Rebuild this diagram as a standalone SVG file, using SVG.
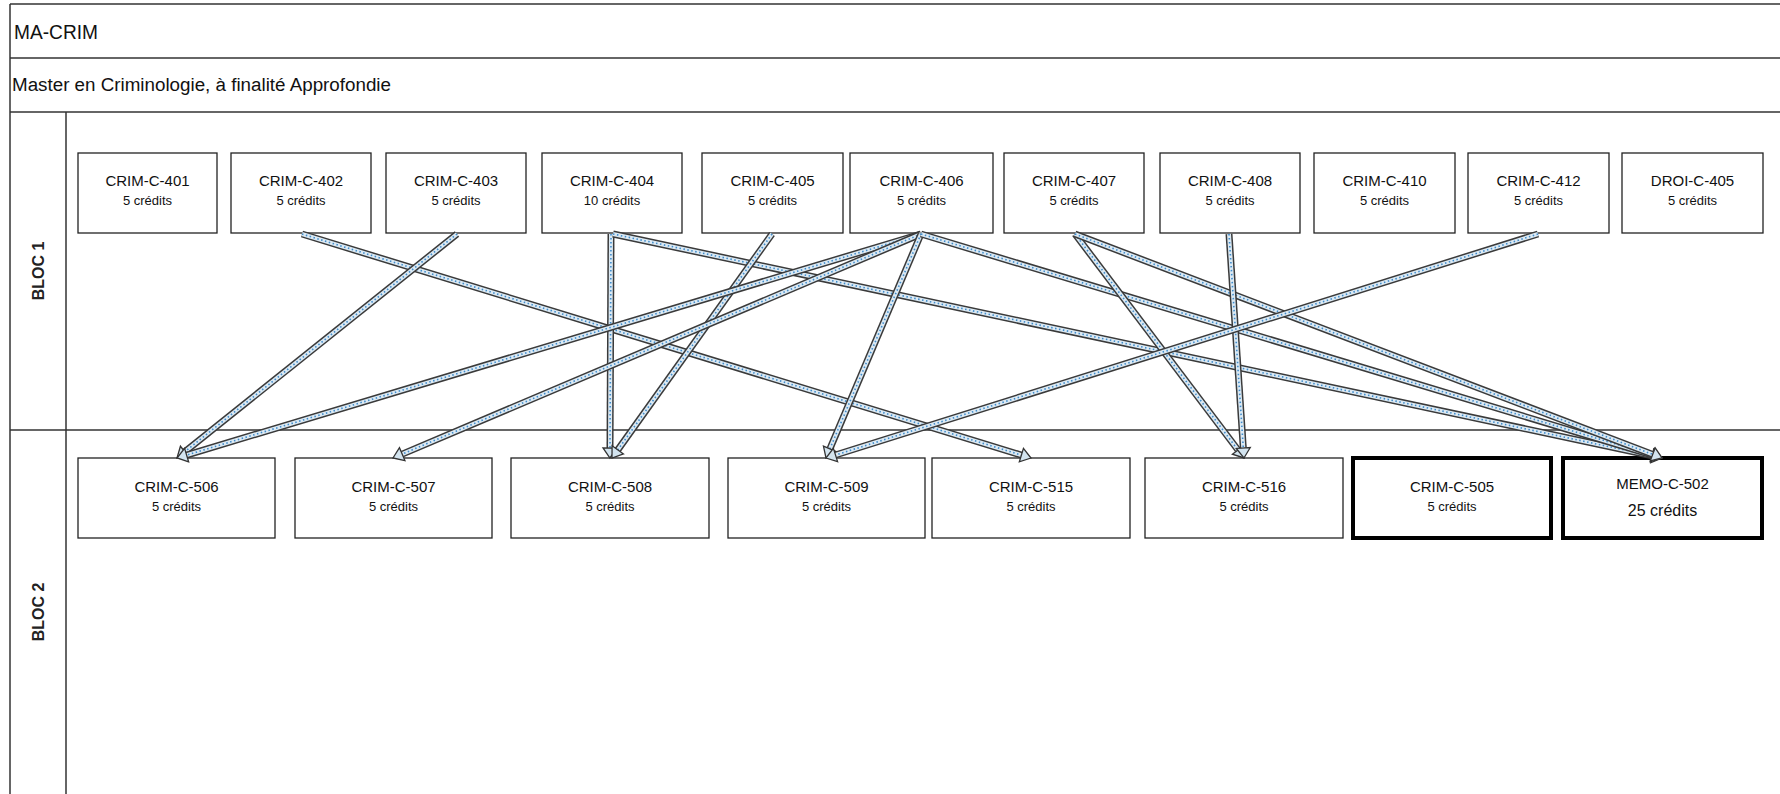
<svg xmlns="http://www.w3.org/2000/svg" width="1780" height="794" viewBox="0 0 1780 794">
<style>
.frame{stroke:#333;stroke-width:1.5;fill:none}
.box{fill:#fff;stroke:#222;stroke-width:1.3}
.bold{fill:#fff;stroke:#000;stroke-width:4}
.t{font-family:"Liberation Sans",Arial,sans-serif;font-size:15px;fill:#111;text-anchor:middle}
.c{font-family:"Liberation Sans",Arial,sans-serif;font-size:13px;fill:#111;text-anchor:middle}
.c2{font-family:"Liberation Sans",Arial,sans-serif;font-size:16px;fill:#111;text-anchor:middle}
.hdr{font-family:"Liberation Sans",Arial,sans-serif;fill:#111}
.lane{font-family:"Liberation Sans",Arial,sans-serif;font-size:16px;font-weight:bold;fill:#222;text-anchor:middle}
.o{stroke:#3a3a3a;stroke-width:7;fill:none}
.i{stroke:#dbe9f3;stroke-width:4;fill:none}
.d{stroke:#3f8ccc;stroke-width:1.6;stroke-dasharray:1.5 2.5;fill:none;marker-end:url(#head)}
</style>
<defs>
<marker id="head" markerUnits="userSpaceOnUse" markerWidth="14" markerHeight="18" viewBox="-1 -9 14 18" refX="0" refY="0" orient="auto" overflow="visible">
<path d="M0,-7 L10,0 L0,7 Z" fill="#d3e4ef" stroke="#333" stroke-width="1.3" stroke-linejoin="miter"/>
</marker>
</defs>
<rect x="0" y="0" width="1780" height="794" fill="#fff"/>
<g id="frame">
<line class="frame" x1="10" y1="4" x2="1780" y2="4"/>
<line class="frame" x1="10" y1="4" x2="10" y2="794"/>
<line class="frame" x1="10" y1="58" x2="1780" y2="58"/>
<line class="frame" x1="10" y1="112" x2="1780" y2="112"/>
<line class="frame" x1="66" y1="112" x2="66" y2="794"/>
<line class="frame" x1="10" y1="430" x2="1780" y2="430"/>
<text class="hdr" x="14" y="39" font-size="21" textLength="84" lengthAdjust="spacingAndGlyphs">MA-CRIM</text>
<text class="hdr" x="12" y="91" font-size="18.8">Master en Criminologie, à finalité Approfondie</text>
<text class="lane" transform="translate(43.5,271) rotate(-90)">BLOC 1</text>
<text class="lane" transform="translate(43.5,612) rotate(-90)">BLOC 2</text>
</g>
<g id="CRIM-C-401"><rect class="box" x="78" y="153" width="139" height="80"/><text class="t" x="147.5" y="186">CRIM-C-401</text><text class="c" x="147.5" y="205">5 crédits</text></g>
<g id="CRIM-C-402"><rect class="box" x="231" y="153" width="140" height="80"/><text class="t" x="301" y="186">CRIM-C-402</text><text class="c" x="301" y="205">5 crédits</text></g>
<g id="CRIM-C-403"><rect class="box" x="386" y="153" width="140" height="80"/><text class="t" x="456" y="186">CRIM-C-403</text><text class="c" x="456" y="205">5 crédits</text></g>
<g id="CRIM-C-404"><rect class="box" x="542" y="153" width="140" height="80"/><text class="t" x="612" y="186">CRIM-C-404</text><text class="c" x="612" y="205">10 crédits</text></g>
<g id="CRIM-C-405"><rect class="box" x="702" y="153" width="141" height="80"/><text class="t" x="772.5" y="186">CRIM-C-405</text><text class="c" x="772.5" y="205">5 crédits</text></g>
<g id="CRIM-C-406"><rect class="box" x="850" y="153" width="143" height="80"/><text class="t" x="921.5" y="186">CRIM-C-406</text><text class="c" x="921.5" y="205">5 crédits</text></g>
<g id="CRIM-C-407"><rect class="box" x="1004" y="153" width="140" height="80"/><text class="t" x="1074" y="186">CRIM-C-407</text><text class="c" x="1074" y="205">5 crédits</text></g>
<g id="CRIM-C-408"><rect class="box" x="1160" y="153" width="140" height="80"/><text class="t" x="1230" y="186">CRIM-C-408</text><text class="c" x="1230" y="205">5 crédits</text></g>
<g id="CRIM-C-410"><rect class="box" x="1314" y="153" width="141" height="80"/><text class="t" x="1384.5" y="186">CRIM-C-410</text><text class="c" x="1384.5" y="205">5 crédits</text></g>
<g id="CRIM-C-412"><rect class="box" x="1468" y="153" width="141" height="80"/><text class="t" x="1538.5" y="186">CRIM-C-412</text><text class="c" x="1538.5" y="205">5 crédits</text></g>
<g id="DROI-C-405"><rect class="box" x="1622" y="153" width="141" height="80"/><text class="t" x="1692.5" y="186">DROI-C-405</text><text class="c" x="1692.5" y="205">5 crédits</text></g>
<g id="CRIM-C-506"><rect class="box" x="78" y="458" width="197" height="80"/><text class="t" x="176.5" y="492">CRIM-C-506</text><text class="c" x="176.5" y="511">5 crédits</text></g>
<g id="CRIM-C-507"><rect class="box" x="295" y="458" width="197" height="80"/><text class="t" x="393.5" y="492">CRIM-C-507</text><text class="c" x="393.5" y="511">5 crédits</text></g>
<g id="CRIM-C-508"><rect class="box" x="511" y="458" width="198" height="80"/><text class="t" x="610" y="492">CRIM-C-508</text><text class="c" x="610" y="511">5 crédits</text></g>
<g id="CRIM-C-509"><rect class="box" x="728" y="458" width="197" height="80"/><text class="t" x="826.5" y="492">CRIM-C-509</text><text class="c" x="826.5" y="511">5 crédits</text></g>
<g id="CRIM-C-515"><rect class="box" x="932" y="458" width="198" height="80"/><text class="t" x="1031" y="492">CRIM-C-515</text><text class="c" x="1031" y="511">5 crédits</text></g>
<g id="CRIM-C-516"><rect class="box" x="1145" y="458" width="198" height="80"/><text class="t" x="1244" y="492">CRIM-C-516</text><text class="c" x="1244" y="511">5 crédits</text></g>
<g id="CRIM-C-505"><rect class="bold" x="1353" y="458" width="198" height="80"/><text class="t" x="1452" y="492">CRIM-C-505</text><text class="c" x="1452" y="511">5 crédits</text></g>
<g id="MEMO-C-502"><rect class="bold" x="1563" y="458" width="199" height="80"/><text class="t" x="1662.5" y="489">MEMO-C-502</text><text class="c2" x="1662.5" y="516">25 crédits</text></g>
<g id="connectors">
<path class="o" d="M302,234 L1021.4,455.1"/><path class="i" d="M302,234 L1021.4,455.1"/><path class="d" d="M302,234 L1021.4,455.1"/>
<path class="o" d="M457,234 L184.8,451.7"/><path class="i" d="M457,234 L184.8,451.7"/><path class="d" d="M457,234 L184.8,451.7"/>
<path class="o" d="M611,234 L610,448"/><path class="i" d="M611,234 L610,448"/><path class="d" d="M611,234 L610,448"/>
<path class="o" d="M613,234 L1652.2,455.9"/><path class="i" d="M613,234 L1652.2,455.9"/><path class="d" d="M613,234 L1652.2,455.9"/>
<path class="o" d="M772,234 L617.8,449.9"/><path class="i" d="M772,234 L617.8,449.9"/><path class="d" d="M772,234 L617.8,449.9"/>
<path class="o" d="M921,234 L186.6,455.1"/><path class="i" d="M921,234 L186.6,455.1"/><path class="d" d="M921,234 L186.6,455.1"/>
<path class="o" d="M921,234 L402.2,454.1"/><path class="i" d="M921,234 L402.2,454.1"/><path class="d" d="M921,234 L402.2,454.1"/>
<path class="o" d="M921,234 L829.9,448.8"/><path class="i" d="M921,234 L829.9,448.8"/><path class="d" d="M921,234 L829.9,448.8"/>
<path class="o" d="M921,234 L1652.4,455.1"/><path class="i" d="M921,234 L1652.4,455.1"/><path class="d" d="M921,234 L1652.4,455.1"/>
<path class="o" d="M1075,234 L1238,450"/><path class="i" d="M1075,234 L1238,450"/><path class="d" d="M1075,234 L1238,450"/>
<path class="o" d="M1075,234 L1652.7,454.4"/><path class="i" d="M1075,234 L1652.7,454.4"/><path class="d" d="M1075,234 L1652.7,454.4"/>
<path class="o" d="M1229,234 L1243.3,448"/><path class="i" d="M1229,234 L1243.3,448"/><path class="d" d="M1229,234 L1243.3,448"/>
<path class="o" d="M1538,234 L835.5,455"/><path class="i" d="M1538,234 L835.5,455"/><path class="d" d="M1538,234 L835.5,455"/>
</g>
</svg>
